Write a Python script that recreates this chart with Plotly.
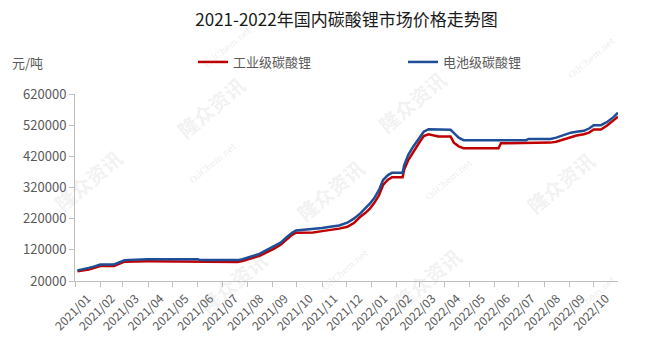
import plotly.graph_objects as go

dates = ["2021-01-04","2021-01-11","2021-01-18","2021-01-25","2021-02-01","2021-02-18","2021-02-22",
         "2021-02-26","2021-03-03","2021-03-31","2021-06-01","2021-06-04","2021-07-20","2021-07-26","2021-08-02",
         "2021-08-09","2021-08-16","2021-08-21","2021-08-27","2021-09-03","2021-09-11","2021-09-18",
         "2021-09-25","2021-09-30","2021-10-21","2021-11-01","2021-11-11","2021-11-22","2021-12-02",
         "2021-12-10","2021-12-18","2021-12-24","2021-12-30","2022-01-04","2022-01-10","2022-01-15",
         "2022-01-21","2022-01-26","2022-02-08","2022-02-10","2022-02-15","2022-02-21","2022-02-28",
         "2022-03-06","2022-03-12","2022-03-24","2022-04-08","2022-04-12","2022-04-18","2022-04-24",
         "2022-06-06","2022-06-09","2022-07-10","2022-07-13","2022-08-06","2022-08-09","2022-08-16",
         "2022-08-22","2022-08-29","2022-09-03",
         "2022-09-10","2022-09-19","2022-09-26","2022-10-01","2022-10-10","2022-10-18","2022-10-25",
         "2022-10-31"]

battery = [54000,57000,62000,67000,73000,73000,78000,
           83000,87000,90000,90000,87000,87000,90000,95000,
           100000,107000,114000,122000,132000,143000,160000,
           175000,182000,186000,190000,194000,198000,207000,
           220000,237000,252000,269000,285000,312000,344000,
           360000,367000,367000,392000,425000,451000,478000,
           499000,507000,507000,505000,495000,480000,472000,
           472000,472000,472000,476000,476000,476000,480000,
           485000,490000,496000,
           499000,502000,510000,520000,520000,531000,545000,
           560000]

industrial = [51000,53000,57000,62000,68000,68000,73000,
              78000,82000,83000,81000,81000,81000,84000,89000,
              94000,101000,107000,114000,124000,136000,152000,
              168000,175000,176000,180000,183000,188000,194000,
              206000,226000,238000,253000,270000,295000,328000,
              345000,353000,353000,378000,408000,435000,462000,
              485000,491000,484000,484000,464000,452000,446000,
              446000,462000,462000,462000,462000,464000,467000,
              472000,478000,483000,
              487000,491000,497000,506000,506000,520000,533000,
              547000]

series_names = ["工业级碳酸锂", "电池级碳酸锂"]
title_text = "2021-2022年国内碳酸锂市场价格走势图"
unit_text = "元/吨"

FONT = "Noto Sans CJK SC, Microsoft YaHei, sans-serif"
GREY = "#595959"

fig = go.Figure()
fig.add_trace(go.Scatter(x=dates, y=industrial, name=series_names[0], mode="lines",
                         line=dict(color="#C00000", width=2.5)))
fig.add_trace(go.Scatter(x=dates, y=battery, name=series_names[1], mode="lines",
                         line=dict(color="#1F4E99", width=2.5)))

L, R, T, B = 75, 30, 94, 78
W, H = 648, 359
pw, ph = W - L - R, H - T - B
def px(x):
    return (x - L) / pw
def py(y):
    return (H - B - y) / ph

annotations = [
    dict(text=unit_text, x=px(10), y=py(62), xref="paper", yref="paper", showarrow=False,
         font=dict(size=13, color=GREY, family=FONT), xanchor="left", yanchor="middle"),
]

# watermarks
wm_main = [(45, 180), (330, 190), (603, 182), (168, 68), (455, 62), (190, 322), (470, 318)]
for (x, y) in wm_main:
    annotations.append(dict(text="<b>隆众资讯</b>", x=px(x), y=py(y), xref="paper", yref="paper",
                            showarrow=False, textangle=-40,
                            font=dict(size=20, color="rgba(120,120,120,0.11)", family=FONT)))
wm_small = [(200, 22), (620, 33), (185, 163), (477, 180), (345, 295), (620, 322)]
for (x, y) in wm_small:
    annotations.append(dict(text="OilChem.net", x=px(x), y=py(y), xref="paper", yref="paper",
                            showarrow=False, textangle=-40,
                            font=dict(size=9, color="rgba(120,120,120,0.16)", family="DejaVu Serif")))

fig.update_layout(
    width=W, height=H,
    margin=dict(l=L, r=R, t=T, b=B, pad=0),
    paper_bgcolor="white", plot_bgcolor="white",
    title=dict(text=title_text, x=0.5, xref="paper", y=1 - 20 / H, yanchor="middle",
               font=dict(size=17, color="#1a1a1a", family=FONT)),
    showlegend=True,
    legend=dict(orientation="h", x=px(193), y=py(62), xanchor="left", yanchor="middle",
                font=dict(size=13, color=GREY, family=FONT), itemwidth=30,
                entrywidth=165, entrywidthmode="pixels", bgcolor="rgba(0,0,0,0)",
                traceorder="normal"),
    annotations=annotations,
    xaxis=dict(type="date", range=["2021-01-01", "2022-10-31"], dtick="M1", tick0="2021-01-01",
               tickformat="%Y/%m", ticklabelmode="period", tickangle=-45,
               showgrid=False, zeroline=False, showline=True, linecolor="#bfbfbf", linewidth=1,
               ticks="outside", ticklen=5, tickcolor="#bfbfbf",
               tickfont=dict(size=12, color=GREY, family=FONT)),
    yaxis=dict(range=[20000, 620000], dtick=100000, tick0=20000, showgrid=False, zeroline=False,
               showline=True, linecolor="#bfbfbf", linewidth=1, ticks="outside", ticklen=5,
               tickcolor="#bfbfbf", tickformat="d",
               tickfont=dict(size=13, color=GREY, family=FONT)),
)

fig.write_html("out.html")
